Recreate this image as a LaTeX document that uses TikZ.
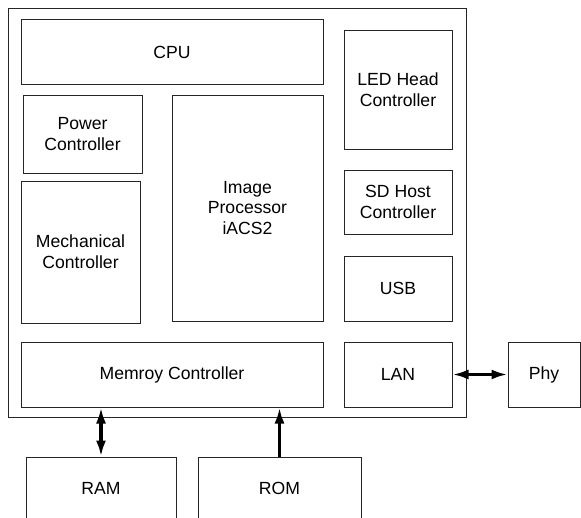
\documentclass[tikz,border=0pt]{standalone}
\usepackage{fontspec}
\setmainfont{Liberation Sans}
\usetikzlibrary{fit,arrows.meta}
\begin{document}
\begin{tikzpicture}[x=0.75pt,y=-0.75pt,
  blk/.style={draw=black!85, line width=0.75pt, inner sep=0pt},
  txt/.style={align=center, inner sep=0pt, font=\fontsize{13.2}{15.5}\selectfont},
  conn/.style={line width=2.3pt, black}]
\tikzset{tp/.tip={Latex[length=12pt,width=7.5pt]}}
\useasboundingbox (0,0) rectangle (581,517);
\clip (0,0) rectangle (581,517);
\node[blk, fit={(8,9) (466,417)}] (chip) {};
\node[blk, fit={(21,20) (323,84)}, label={[txt]center:CPU}] (cpu) {};
\node[blk, fit={(23,95) (142,173)}, label={[txt]center:Power\\Controller}] (pwr) {};
\node[blk, fit={(21,181) (140,323)}, label={[txt]center:Mechanical\\Controller}] (mech) {};
\node[blk, fit={(172,95) (323,321)}, label={[txt]center:Image\\Processor\\iACS2}] (img) {};
\node[blk, fit={(344,31) (452,149)}, label={[txt]center:LED Head\\Controller}] (led) {};
\node[blk, fit={(344,170) (452,234)}, label={[txt]center:SD Host\\Controller}] (sd) {};
\node[blk, fit={(344,256) (452,321)}, label={[txt]center:USB}] (usb) {};
\node[blk, fit={(21,342) (323,407)}, label={[txt]center:Memroy Controller}] (mem) {};
\node[blk, fit={(344,342) (452,407)}, label={[txt]center:LAN}] (lan) {};
\node[blk, fit={(508,342) (580,407)}, label={[txt]center:Phy}] (phy) {};
\node[blk, fit={(26,457) (176,520)}, label={[txt]center:RAM}] (ram) {};
\node[blk, fit={(198,457) (361,520)}, label={[txt]center:ROM}] (rom) {};
\draw[conn, tp-tp] (mem.south -| ram.north) -- (ram.north);
\draw[conn, -tp] (rom.north) -- (mem.south -| rom.north);
\draw[conn, tp-tp] (lan.east) -- (phy.west);
\end{tikzpicture}
\end{document}
